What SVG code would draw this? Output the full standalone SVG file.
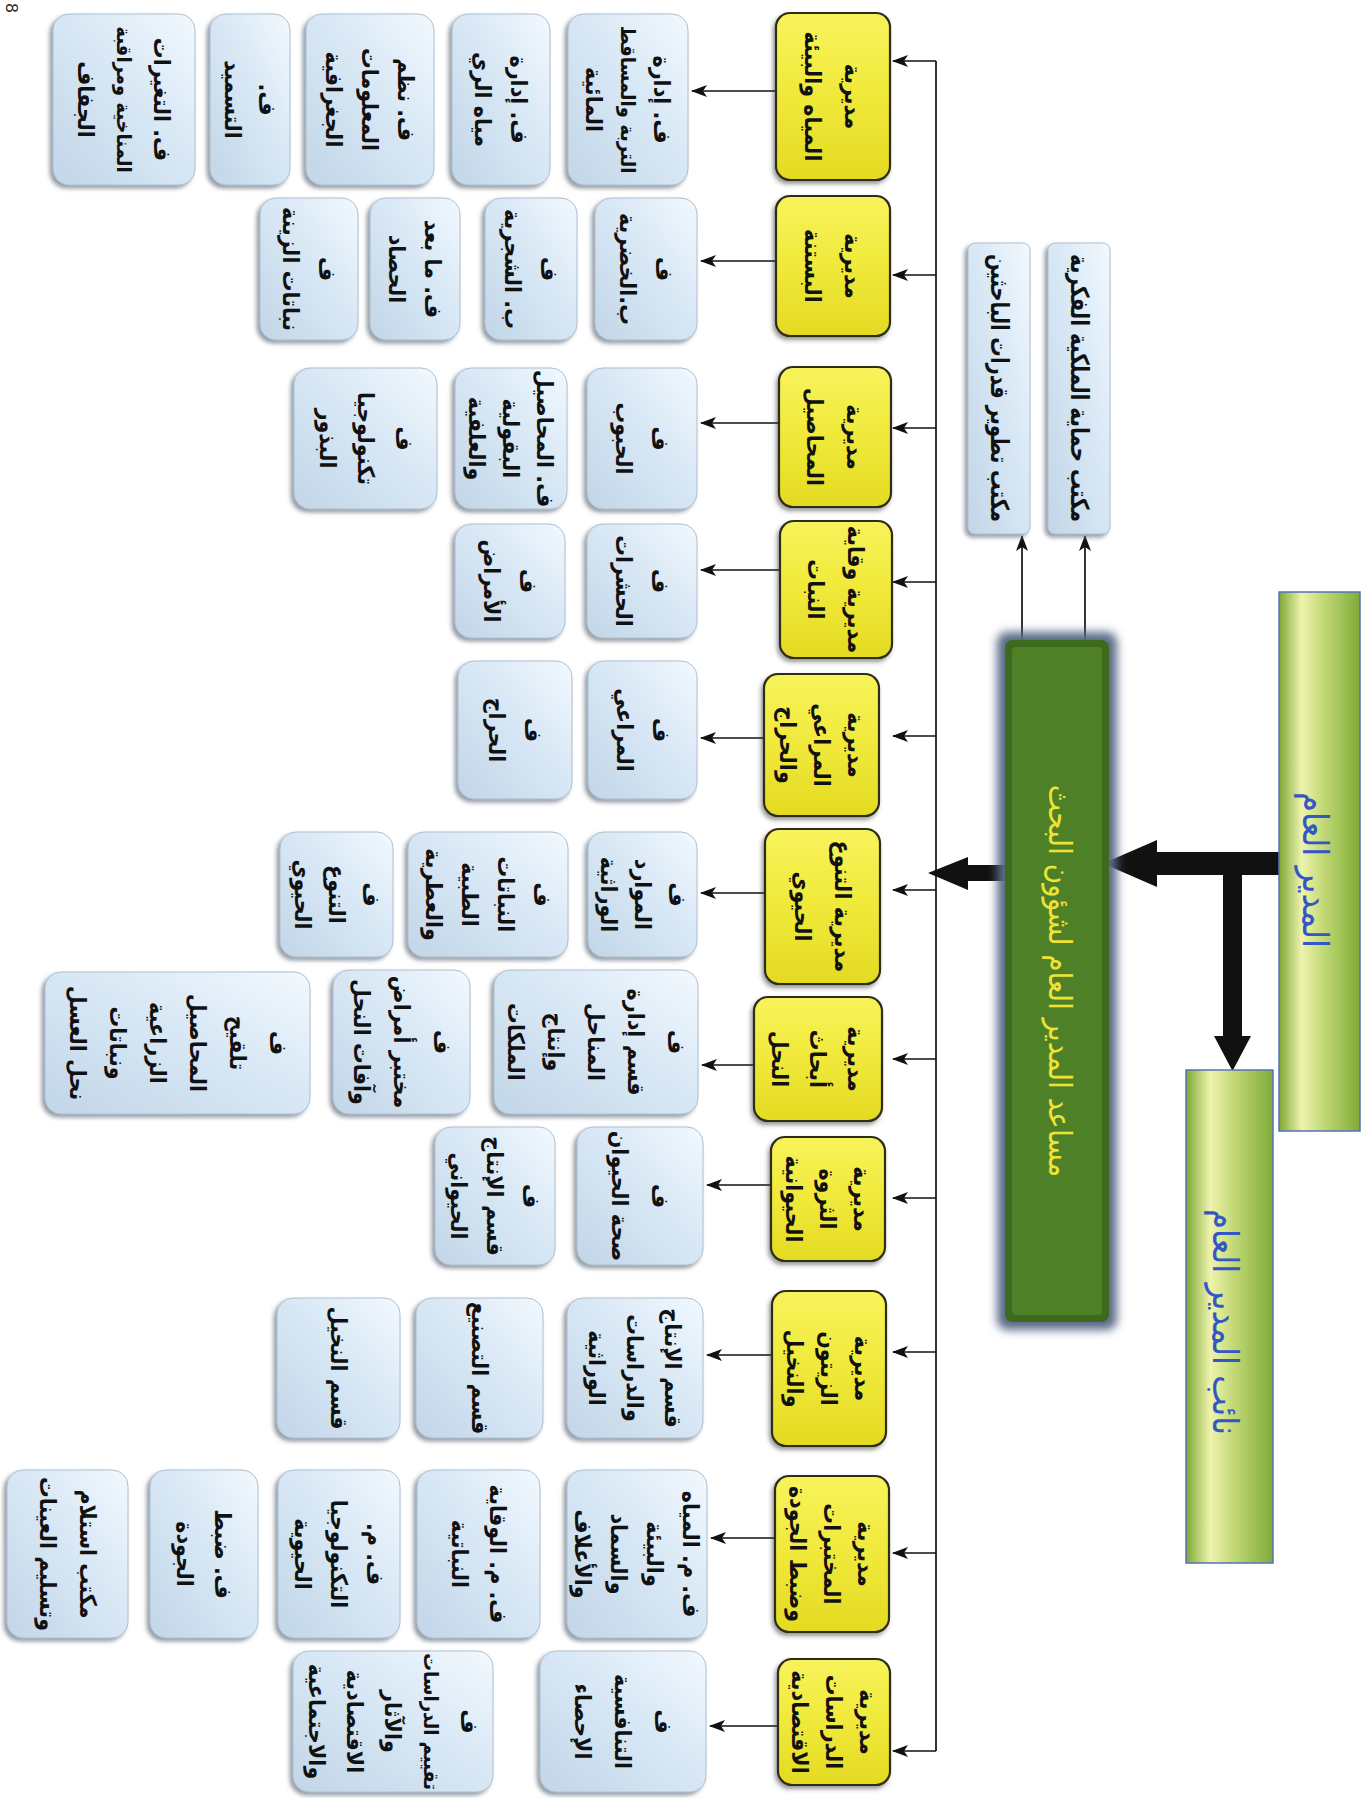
<svg xmlns="http://www.w3.org/2000/svg" width="1368" height="1798" viewBox="0 0 1368 1798">
<defs>
<style>
.bb{fill:url(#gBlue);stroke:#aebfce;stroke-width:1;filter:url(#shB)}
.yb{fill:url(#gYel);stroke:#2e2e14;stroke-width:2.2;filter:url(#shY)}
.ob{fill:url(#gBlue);stroke:#aebfce;stroke-width:1;filter:url(#shB)}
.t{font-family:"DejaVu Sans Condensed","DejaVu Sans",sans-serif;font-weight:bold;font-size:23px;fill:#111;text-anchor:middle;dominant-baseline:central;direction:rtl}
.to{font-family:"DejaVu Sans Condensed","DejaVu Sans",sans-serif;font-weight:bold;font-size:25px;fill:#111;text-anchor:middle;dominant-baseline:central;direction:rtl}
.tb{font-family:"DejaVu Sans Condensed","DejaVu Sans",sans-serif;font-size:36px;fill:#3457c4;text-anchor:middle;dominant-baseline:central;direction:rtl}
.tg{font-family:"DejaVu Sans Condensed","DejaVu Sans",sans-serif;font-size:31px;fill:#efe236;text-anchor:middle;dominant-baseline:central;direction:rtl}
.sm{font-size:20px}
.ln{stroke:#111;stroke-width:1.7;fill:none}
.ar{marker-end:url(#ah)}
</style>
<linearGradient id="gBlue" x1="0" y1="1" x2="1" y2="0">
<stop offset="0" stop-color="#c2d6e8"/><stop offset="0.5" stop-color="#d6e6f4"/><stop offset="0.8" stop-color="#e6f1fa"/><stop offset="1" stop-color="#f3f9fe"/>
</linearGradient>
<linearGradient id="gYel" x1="0" y1="0" x2="0" y2="1">
<stop offset="0" stop-color="#f8f35c"/><stop offset="0.5" stop-color="#f0e93a"/><stop offset="1" stop-color="#e4da22"/>
</linearGradient>
<linearGradient id="gBar" x1="0" y1="0" x2="1" y2="0">
<stop offset="0" stop-color="#7ea834"/><stop offset="0.28" stop-color="#eef3ad"/><stop offset="0.55" stop-color="#c2d977"/><stop offset="1" stop-color="#7fab37"/>
</linearGradient>
<filter id="shB" x="-20%" y="-20%" width="140%" height="140%"><feDropShadow dx="-3" dy="3" stdDeviation="2" flood-color="#6f7c88" flood-opacity="0.75"/></filter>
<filter id="shY" x="-20%" y="-20%" width="140%" height="140%"><feDropShadow dx="-2" dy="3" stdDeviation="2" flood-color="#333" flood-opacity="0.5"/></filter>
<filter id="blur" x="-30%" y="-30%" width="160%" height="160%"><feGaussianBlur stdDeviation="5"/></filter>
<marker id="ah" viewBox="0 0 16 12" refX="15" refY="6" markerWidth="16" markerHeight="12" markerUnits="userSpaceOnUse" orient="auto"><path d="M0,0 L16,6 L0,12 L4,6 Z" fill="#111"/></marker>
</defs>
<rect x="0" y="0" width="1368" height="1798" fill="#ffffff"/>
<text x="0" y="0" transform="translate(11,8) rotate(90)" font-family="Liberation Sans, sans-serif" font-size="17" fill="#222" text-anchor="middle" dominant-baseline="central">8</text>

<g id="connectors">
<line class="ln" x1="936" y1="61" x2="936" y2="1751"/>
<line class="ln ar" x1="936" y1="61" x2="893" y2="61"/>
<line class="ln ar" x1="936" y1="275" x2="893" y2="275"/>
<line class="ln ar" x1="936" y1="428" x2="893" y2="428"/>
<line class="ln ar" x1="936" y1="582" x2="893" y2="582"/>
<line class="ln ar" x1="936" y1="736" x2="893" y2="736"/>
<line class="ln ar" x1="936" y1="890" x2="893" y2="890"/>
<line class="ln ar" x1="936" y1="1059" x2="893" y2="1059"/>
<line class="ln ar" x1="936" y1="1198" x2="893" y2="1198"/>
<line class="ln ar" x1="936" y1="1352" x2="893" y2="1352"/>
<line class="ln ar" x1="936" y1="1553" x2="893" y2="1553"/>
<line class="ln ar" x1="936" y1="1751" x2="893" y2="1751"/>
<line class="ln ar" x1="776" y1="91" x2="692" y2="91"/>
<line class="ln ar" x1="776" y1="261" x2="701" y2="261"/>
<line class="ln ar" x1="779" y1="423" x2="701" y2="423"/>
<line class="ln ar" x1="780" y1="570" x2="701" y2="570"/>
<line class="ln ar" x1="770" y1="738" x2="701" y2="738"/>
<line class="ln ar" x1="765" y1="893" x2="701" y2="893"/>
<line class="ln ar" x1="760" y1="1065" x2="702" y2="1065"/>
<line class="ln ar" x1="771" y1="1185" x2="707" y2="1185"/>
<line class="ln ar" x1="772" y1="1355" x2="707" y2="1355"/>
<line class="ln ar" x1="775" y1="1538" x2="711" y2="1538"/>
<line class="ln ar" x1="778" y1="1726" x2="710" y2="1726"/>
<line class="ln ar" x1="1022" y1="640" x2="1022" y2="536"/>
<line class="ln ar" x1="1085" y1="640" x2="1085" y2="536"/>
<polygon fill="#111" points="1281,852 1157,852 1157,840 1103,863.5 1157,887 1157,875 1281,875"/>
<polygon fill="#111" points="1223,870 1242,870 1242,1036 1251,1036 1232.5,1071 1214,1036 1223,1036"/>
<polygon fill="#111" points="1007,865 968,865 968,857 928,873 968,890 968,881 1007,881"/>
</g>

<g id="n-director">
<rect x="1279" y="592" width="81" height="539" fill="url(#gBar)" stroke="#5572b8" stroke-width="1.5"/>
<text class="tb" transform="translate(1316,870) rotate(90)"><tspan x="0" y="0">المدير العام</tspan></text>
</g>
<g id="n-deputy">
<rect x="1186" y="1070" width="87" height="493" fill="url(#gBar)" stroke="#5572b8" stroke-width="1.5"/>
<text class="tb" transform="translate(1226,1322) rotate(90)"><tspan x="0" y="0">نائب المدير العام</tspan></text>
</g>
<g id="n-assistant">
<rect x="997" y="632" width="120" height="698" rx="10" fill="#5a6a86" filter="url(#blur)"/>
<rect x="1005" y="640" width="104" height="682" rx="8" fill="#3d6a1c"/>
<rect x="1012" y="647" width="90" height="668" rx="4" fill="#4e8127"/>
<text class="tg" transform="translate(1060,981) rotate(90)"><tspan x="0" y="0">مساعد المدير العام لشؤون البحث</tspan></text>
</g>
<g id="n-office-dev">
<rect class="ob" x="968" y="243" width="62" height="291" rx="7"/>
<text class="to" transform="translate(999,388) rotate(90)" x="0" y="0" textLength="268" lengthAdjust="spacingAndGlyphs">مكتب تطوير قدرات الباحثين</text>
</g>
<g id="n-office-ip">
<rect class="ob" x="1048" y="243" width="62" height="291" rx="7"/>
<text class="to" transform="translate(1079,388) rotate(90)" x="0" y="0" textLength="268" lengthAdjust="spacingAndGlyphs">مكتب حماية الملكية الفكرية</text>
</g>

<g id="y1"><rect class="yb" x="776" y="13" width="114" height="167" rx="14"/>
<text class="t" transform="translate(833,96.5) rotate(90)"><tspan x="0" y="-20">مديرية</tspan><tspan x="0" y="20">المياه والبيئة</tspan></text></g>
<g id="y2"><rect class="yb" x="776" y="196" width="114" height="140" rx="14"/>
<text class="t" transform="translate(833,266) rotate(90)"><tspan x="0" y="-20">مديرية</tspan><tspan x="0" y="20">البستنة</tspan></text></g>
<g id="y3"><rect class="yb" x="779" y="367" width="112" height="140" rx="14"/>
<text class="t" transform="translate(835,437) rotate(90)"><tspan x="0" y="-20">مديرية</tspan><tspan x="0" y="20">المحاصيل</tspan></text></g>
<g id="y4"><rect class="yb" x="780" y="521" width="112" height="137" rx="14"/>
<text class="t" transform="translate(836,589.5) rotate(90)"><tspan x="0" y="-20">مديرية وقاية</tspan><tspan x="0" y="20">النبات</tspan></text></g>
<g id="y5"><rect class="yb" x="764" y="674" width="115" height="142" rx="14"/>
<text class="t" transform="translate(821.5,745) rotate(90)"><tspan x="0" y="-34">مديرية</tspan><tspan x="0" y="0">المراعي</tspan><tspan x="0" y="34">والحراج</tspan></text></g>
<g id="y6"><rect class="yb" x="765" y="829" width="115" height="155" rx="14"/>
<text class="t" transform="translate(822.5,906.5) rotate(90)"><tspan x="0" y="-20">مديرية التنوع</tspan><tspan x="0" y="20">الحيوي</tspan></text></g>
<g id="y7"><rect class="yb" x="754" y="997" width="128" height="124" rx="14"/>
<text class="t" transform="translate(818,1059) rotate(90)"><tspan x="0" y="-38">مديرية</tspan><tspan x="0" y="0">أبحاث</tspan><tspan x="0" y="38">النحل</tspan></text></g>
<g id="y8"><rect class="yb" x="771" y="1137" width="114" height="124" rx="14"/>
<text class="t" transform="translate(828,1199) rotate(90)"><tspan x="0" y="-34">مديرية</tspan><tspan x="0" y="0">الثروة</tspan><tspan x="0" y="34">الحيوانية</tspan></text></g>
<g id="y9"><rect class="yb" x="772" y="1291" width="114" height="155" rx="14"/>
<text class="t" transform="translate(829,1368.5) rotate(90)"><tspan x="0" y="-34">مديرية</tspan><tspan x="0" y="0">الزيتون</tspan><tspan x="0" y="34">والنخيل</tspan></text></g>
<g id="y10"><rect class="yb" x="775" y="1476" width="114" height="156" rx="14"/>
<text class="t" transform="translate(832,1554) rotate(90)"><tspan x="0" y="-34">مديرية</tspan><tspan x="0" y="0">المختبرات</tspan><tspan x="0" y="34">وضبط الجودة</tspan></text></g>
<g id="y11"><rect class="yb" x="778" y="1659" width="112" height="126" rx="14"/>
<text class="t" transform="translate(834,1722) rotate(90)"><tspan x="0" y="-34">مديرية</tspan><tspan x="0" y="0">الدراسات</tspan><tspan x="0" y="34">الاقتصادية</tspan></text></g>

<g id="b1a"><rect class="bb" x="568" y="14" width="120" height="171" rx="16"/>
<text class="t" transform="translate(628,99.5) rotate(90)"><tspan x="0" y="-34">ف. إدارة</tspan><tspan class="sm" x="0" y="0">التربة والمساقط</tspan><tspan x="0" y="34">المائية</tspan></text></g>
<g id="b1b"><rect class="bb" x="452" y="14" width="98" height="171" rx="16"/>
<text class="t" transform="translate(501,99.5) rotate(90)"><tspan x="0" y="-18">ف. إدارة</tspan><tspan x="0" y="18">مياه الري</tspan></text></g>
<g id="b1c"><rect class="bb" x="306" y="14" width="128" height="171" rx="16"/>
<text class="t" transform="translate(370,99.5) rotate(90)"><tspan x="0" y="-36">ف. نظم</tspan><tspan x="0" y="0">المعلومات</tspan><tspan x="0" y="36">الجغرافية</tspan></text></g>
<g id="b1d"><rect class="bb" x="210" y="14" width="80" height="171" rx="16"/>
<text class="t" transform="translate(250,99.5) rotate(90)"><tspan x="0" y="-17">ف.</tspan><tspan x="0" y="17">التسميد</tspan></text></g>
<g id="b1e"><rect class="bb" x="53" y="14" width="142" height="171" rx="16"/>
<text class="t" transform="translate(124,99.5) rotate(90)"><tspan x="0" y="-38">ف. التغيرات</tspan><tspan class="sm" x="0" y="0">المناخية ومراقبة</tspan><tspan x="0" y="38">الجفاف</tspan></text></g>

<g id="b2a"><rect class="bb" x="595" y="198" width="102" height="142" rx="16"/>
<text class="t" transform="translate(646,269) rotate(90)"><tspan x="0" y="-18">ف</tspan><tspan x="0" y="18">ب.الخضرية</tspan></text></g>
<g id="b2b"><rect class="bb" x="485" y="198" width="92" height="142" rx="16"/>
<text class="t" transform="translate(531,269) rotate(90)"><tspan x="0" y="-18">ف</tspan><tspan x="0" y="18">ب. الشجرية</tspan></text></g>
<g id="b2c"><rect class="bb" x="370" y="198" width="90" height="142" rx="16"/>
<text class="t" transform="translate(415,269) rotate(90)"><tspan x="0" y="-18">ف. ما بعد</tspan><tspan x="0" y="18">الحصاد</tspan></text></g>
<g id="b2d"><rect class="bb" x="260" y="198" width="98" height="142" rx="16"/>
<text class="t" transform="translate(309,269) rotate(90)"><tspan x="0" y="-18">ف</tspan><tspan x="0" y="18">نباتات الزينة</tspan></text></g>

<g id="b3a"><rect class="bb" x="587" y="368" width="110" height="141" rx="16"/>
<text class="t" transform="translate(642,438.5) rotate(90)"><tspan x="0" y="-18">ف</tspan><tspan x="0" y="18">الحبوب</tspan></text></g>
<g id="b3b"><rect class="bb" x="455" y="368" width="112" height="141" rx="16"/>
<text class="t" transform="translate(511,438.5) rotate(90)"><tspan x="0" y="-34">ف. المحاصيل</tspan><tspan x="0" y="0">البقولية</tspan><tspan x="0" y="34">والعلفية</tspan></text></g>
<g id="b3c"><rect class="bb" x="294" y="368" width="143" height="141" rx="16"/>
<text class="t" transform="translate(365.5,438.5) rotate(90)"><tspan x="0" y="-38">ف</tspan><tspan x="0" y="0">تكنولوجيا</tspan><tspan x="0" y="38">البذور</tspan></text></g>

<g id="b4a"><rect class="bb" x="587" y="524" width="110" height="114" rx="16"/>
<text class="t" transform="translate(642,581) rotate(90)"><tspan x="0" y="-18">ف</tspan><tspan x="0" y="18">الحشرات</tspan></text></g>
<g id="b4b"><rect class="bb" x="455" y="524" width="110" height="114" rx="16"/>
<text class="t" transform="translate(510,581) rotate(90)"><tspan x="0" y="-18">ف</tspan><tspan x="0" y="18">الأمراض</tspan></text></g>

<g id="b5a"><rect class="bb" x="588" y="661" width="109" height="138" rx="16"/>
<text class="t" transform="translate(642.5,730) rotate(90)"><tspan x="0" y="-18">ف</tspan><tspan x="0" y="18">المراعي</tspan></text></g>
<g id="b5b"><rect class="bb" x="458" y="661" width="114" height="138" rx="16"/>
<text class="t" transform="translate(515,730) rotate(90)"><tspan x="0" y="-18">ف</tspan><tspan x="0" y="18">الحراج</tspan></text></g>

<g id="b6a"><rect class="bb" x="588" y="832" width="109" height="125" rx="16"/>
<text class="t" transform="translate(642.5,894.5) rotate(90)"><tspan x="0" y="-34">ف</tspan><tspan x="0" y="0">الموارد</tspan><tspan x="0" y="34">الوراثية</tspan></text></g>
<g id="b6b"><rect class="bb" x="408" y="832" width="160" height="125" rx="16"/>
<text class="t" transform="translate(488,894.5) rotate(90)"><tspan x="0" y="-54">ف</tspan><tspan x="0" y="-18">النباتات</tspan><tspan x="0" y="18">الطبية</tspan><tspan x="0" y="54">والعطرية</tspan></text></g>
<g id="b6c"><rect class="bb" x="280" y="832" width="113" height="125" rx="16"/>
<text class="t" transform="translate(336.5,894.5) rotate(90)"><tspan x="0" y="-34">ف</tspan><tspan x="0" y="0">التنوع</tspan><tspan x="0" y="34">الحيوي</tspan></text></g>

<g id="b7a"><rect class="bb" x="494" y="970" width="204" height="144" rx="16"/>
<text class="t" transform="translate(596,1042) rotate(90)"><tspan x="0" y="-80">ف</tspan><tspan x="0" y="-40">قسم إدارة</tspan><tspan x="0" y="0">المناحل</tspan><tspan x="0" y="40">وإنتاج</tspan><tspan x="0" y="80">الملكات</tspan></text></g>
<g id="b7b"><rect class="bb" x="333" y="970" width="137" height="144" rx="16"/>
<text class="t" transform="translate(401.5,1042) rotate(90)"><tspan x="0" y="-40">ف</tspan><tspan x="0" y="0">مختبر أمراض</tspan><tspan x="0" y="40">وآفات النحل</tspan></text></g>
<g id="b7c"><rect class="bb" x="45" y="972" width="265" height="142" rx="16"/>
<text class="t" transform="translate(177.5,1043) rotate(90)"><tspan x="0" y="-100">ف</tspan><tspan x="0" y="-60">تلقيح</tspan><tspan x="0" y="-20">المحاصيل</tspan><tspan x="0" y="20">الزراعية</tspan><tspan x="0" y="60">ونباتات</tspan><tspan x="0" y="100">نحل العسل</tspan></text></g>

<g id="b8a"><rect class="bb" x="577" y="1127" width="126" height="138" rx="16"/>
<text class="t" transform="translate(640,1196) rotate(90)"><tspan x="0" y="-20">ف</tspan><tspan x="0" y="20">صحة الحيوان</tspan></text></g>
<g id="b8b"><rect class="bb" x="435" y="1127" width="120" height="138" rx="16"/>
<text class="t" transform="translate(495,1196) rotate(90)"><tspan x="0" y="-36">ف</tspan><tspan x="0" y="0">قسم الإنتاج</tspan><tspan x="0" y="36">الحيواني</tspan></text></g>

<g id="b9a"><rect class="bb" x="567" y="1298" width="136" height="140" rx="16"/>
<text class="t" transform="translate(635,1368) rotate(90)"><tspan x="0" y="-38">قسم الإنتاج</tspan><tspan x="0" y="0">والدراسات</tspan><tspan x="0" y="38">الوراثية</tspan></text></g>
<g id="b9b"><rect class="bb" x="416" y="1298" width="127" height="140" rx="16"/>
<text class="t" transform="translate(479.5,1368) rotate(90)"><tspan x="0" y="0">قسم التصنيع</tspan></text></g>
<g id="b9c"><rect class="bb" x="277" y="1298" width="123" height="140" rx="16"/>
<text class="t" transform="translate(338.5,1368) rotate(90)"><tspan x="0" y="0">قسم النخيل</tspan></text></g>

<g id="b10a"><rect class="bb" x="567" y="1470" width="140" height="168" rx="16"/>
<text class="t" transform="translate(637,1554) rotate(90)"><tspan x="0" y="-54">ف. م. المياه</tspan><tspan x="0" y="-18">والبيئة</tspan><tspan x="0" y="18">والسماد</tspan><tspan x="0" y="54">والأعلاف</tspan></text></g>
<g id="b10b"><rect class="bb" x="417" y="1470" width="123" height="168" rx="16"/>
<text class="t" transform="translate(478.5,1554) rotate(90)"><tspan x="0" y="-19">ف. م. الوقاية</tspan><tspan x="0" y="19">النباتية</tspan></text></g>
<g id="b10c"><rect class="bb" x="278" y="1470" width="122" height="168" rx="16"/>
<text class="t" transform="translate(339,1554) rotate(90)"><tspan x="0" y="-36">ف. م.</tspan><tspan x="0" y="0">التكنولوجيا</tspan><tspan x="0" y="36">الحيوية</tspan></text></g>
<g id="b10d"><rect class="bb" x="150" y="1470" width="108" height="168" rx="16"/>
<text class="t" transform="translate(204,1554) rotate(90)"><tspan x="0" y="-19">ف. ضبط</tspan><tspan x="0" y="19">الجودة</tspan></text></g>
<g id="b10e"><rect class="bb" x="7" y="1470" width="121" height="168" rx="16"/>
<text class="t" transform="translate(67.5,1554) rotate(90)"><tspan x="0" y="-20">مكتب استلام</tspan><tspan x="0" y="20">وتسليم العينات</tspan></text></g>

<g id="b11a"><rect class="bb" x="540" y="1651" width="166" height="141" rx="16"/>
<text class="t" transform="translate(623,1721.5) rotate(90)"><tspan x="0" y="-40">ف</tspan><tspan x="0" y="0">التنافسية</tspan><tspan x="0" y="40">الإحصاء</tspan></text></g>
<g id="b11b"><rect class="bb" x="293" y="1651" width="200" height="141" rx="16"/>
<text class="t" transform="translate(393,1721.5) rotate(90)"><tspan x="0" y="-76">ف</tspan><tspan class="sm" x="0" y="-38">تقييم الدراسات</tspan><tspan x="0" y="0">والآثار</tspan><tspan x="0" y="38">الاقتصادية</tspan><tspan x="0" y="76">والاجتماعية</tspan></text></g>
</svg>
